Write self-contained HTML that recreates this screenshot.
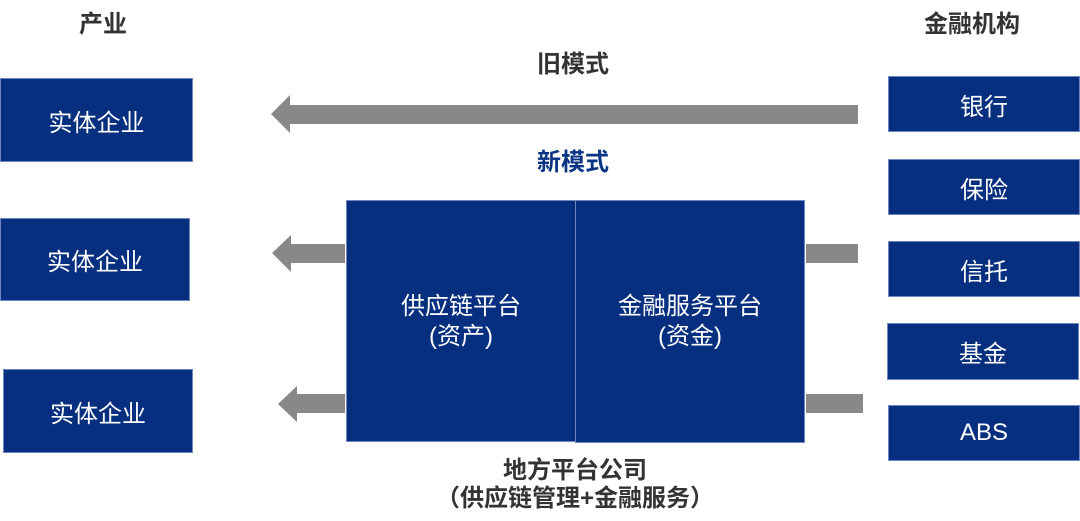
<!DOCTYPE html>
<html><head><meta charset="utf-8"><style>
body{margin:0;width:1080px;height:521px;background:#fff;position:relative;overflow:hidden;font-family:"Liberation Sans","Noto Sans CJK SC",sans-serif}
.b{position:absolute;background:#072f80;color:#fff;display:flex;align-items:center;justify-content:center;font-size:24px;border:1px solid #6f86c0;box-sizing:border-box}
.t{position:absolute;font-weight:bold;font-size:24px;color:#333;text-align:center;white-space:nowrap}
svg{position:absolute;left:0;top:0}
</style></head><body>
<div class="t" style="left:63px;top:4px;width:80px">产业</div>
<div class="t" style="left:912px;top:4px;width:120px">金融机构</div>
<div class="t" style="left:513px;top:44px;width:120px">旧模式</div>
<div class="t" style="left:513px;top:142px;width:120px;color:#0a3585">新模式</div>
<div class="b" style="left:0;top:78px;width:193px;height:84px">实体企业</div>
<div class="b" style="left:0;top:218px;width:190px;height:83px">实体企业</div>
<div class="b" style="left:3px;top:369px;width:190px;height:84px">实体企业</div>
<div class="b" style="left:888px;top:76px;width:192px;height:56px">银行</div>
<div class="b" style="left:888px;top:159px;width:192px;height:56px">保险</div>
<div class="b" style="left:888px;top:241px;width:192px;height:56px">信托</div>
<div class="b" style="left:887px;top:323px;width:192px;height:57px">基金</div>
<div class="b" style="left:888px;top:405px;width:192px;height:56px">ABS</div>
<div class="b" style="left:346px;top:200px;width:230px;height:242px;align-items:flex-start;padding-top:91px;text-align:center;line-height:30px">供应链平台<br>(资产)</div>
<div class="b" style="left:575px;top:200px;width:230px;height:243px;align-items:flex-start;padding-top:91px;text-align:center;line-height:30px">金融服务平台<br>(资金)</div>
<div class="t" style="left:400px;top:457px;width:350px;line-height:28px">地方平台公司<br>（供应链管理+金融服务）</div>
<svg width="1080" height="521">
<g fill="#888">
<polygon points="271,114 290,95 290,105 858,105 858,124 290,124 290,133"/>
<polygon points="272,253 291,235 291,244 345,244 345,263 291,263 291,272"/>
<polygon points="278,404 297,386 297,394 345,394 345,413 297,413 297,422"/>
<rect x="806" y="244" width="52" height="19"/>
<rect x="806" y="394" width="57" height="19"/>
</g></svg>
</body></html>
